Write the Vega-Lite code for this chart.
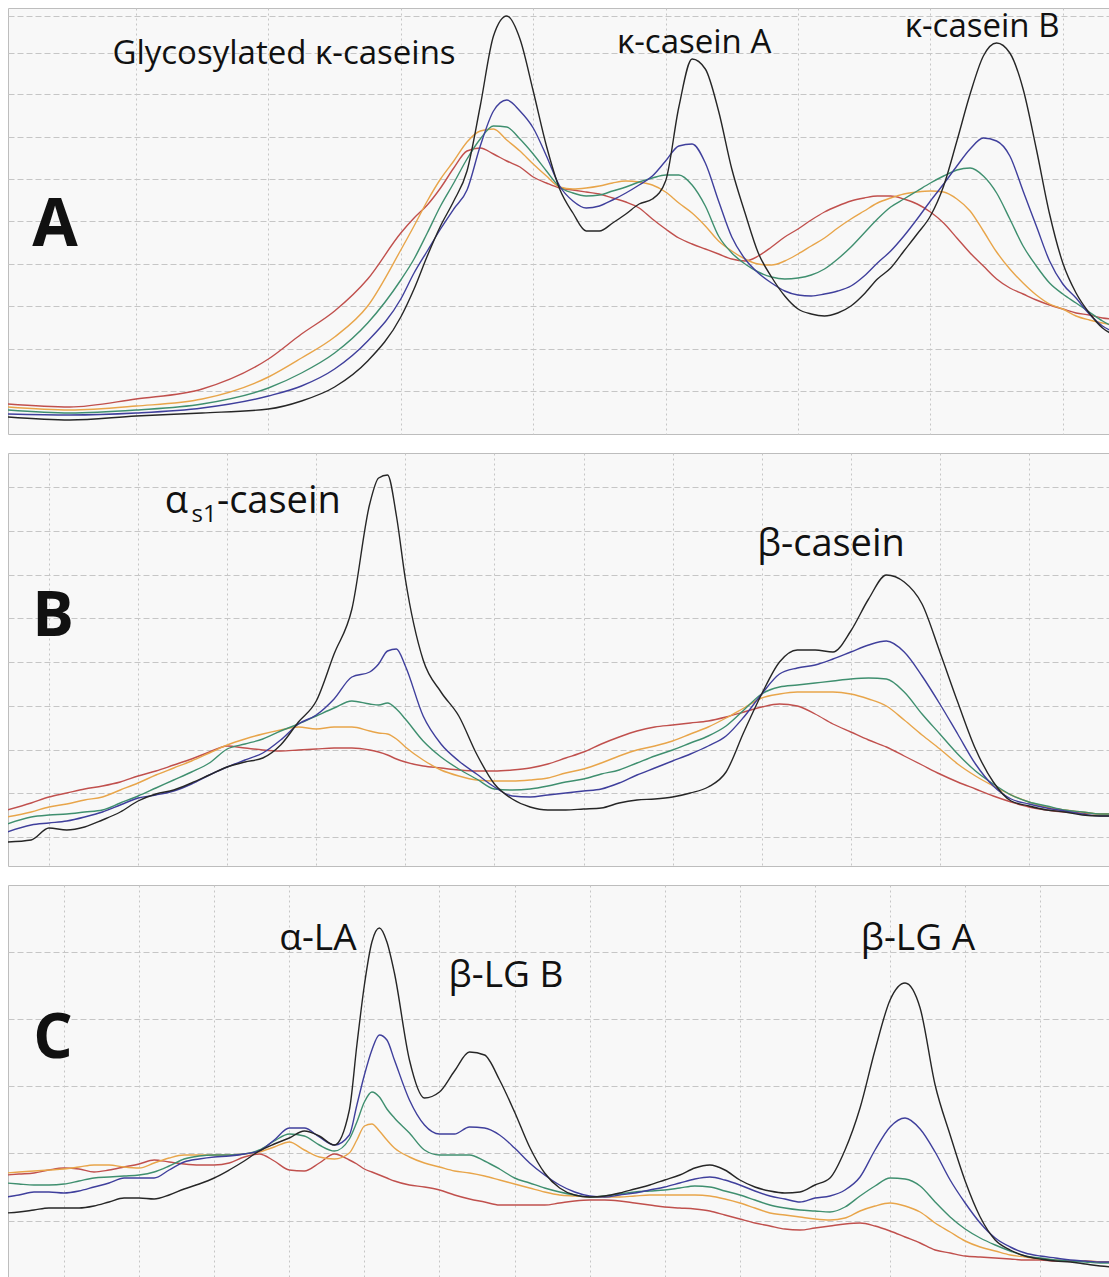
{
  "$schema": "https://vega.github.io/schema/vega-lite/v6.json",
  "background": "white",
  "padding": {"left": 7, "top": 7, "right": 0, "bottom": 0},
  "config": {
    "view": {"fill": "#f8f8f8", "stroke": "#bdbdbd", "strokeWidth": 1},
    "concat": {"spacing": 17},
    "axis": {"labels": false, "ticks": false, "domain": false, "grid": true, "gridColor": "#c6c6c6", "gridWidth": 1, "minExtent": 0, "maxExtent": 0},
    "axisX": {"gridDash": [2, 3]},
    "axisY": {"gridDash": [6, 3]},
    "text": {"font": "Open Sans", "color": "#111111"}
  },
  "datasets": {
    "kappa": [
      {"t":0.03,"red":30,"orange":27,"green":24,"blue":20,"black":17},
      {"t":0.5,"red":27,"orange":24,"green":21,"blue":19,"black":14},
      {"t":1.0,"red":35,"orange":28,"green":24,"blue":21,"black":18},
      {"t":1.5,"red":45,"orange":35,"green":30,"blue":26,"black":21},
      {"t":2.0,"red":75,"orange":57,"green":46,"blue":38,"black":25},
      {"t":2.25,"red":100,"orange":76,"green":61,"blue":48,"black":33},
      {"t":2.5,"red":123,"orange":97,"green":81,"blue":65,"black":47},
      {"t":2.75,"red":155,"orange":128,"green":111,"blue":93,"black":73},
      {"t":3.0,"red":201,"orange":184,"green":154,"blue":135,"black":117},
      {"t":3.1,"red":216,"orange":208,"green":175,"blue":161,"black":145},
      {"t":3.2,"red":229,"orange":233,"green":201,"blue":183,"black":178},
      {"t":3.3,"red":246,"orange":255,"green":228,"blue":205,"black":208},
      {"t":3.4,"red":266,"orange":273,"green":251,"blue":225,"black":233},
      {"t":3.5,"red":283,"orange":292,"green":275,"blue":244,"black":263},
      {"t":3.6,"red":286,"orange":303,"green":295,"blue":288,"black":328},
      {"t":3.7,"red":280,"orange":305,"green":308,"blue":323,"black":398},
      {"t":3.8,"red":273,"orange":294,"green":307,"blue":334,"black":418},
      {"t":3.9,"red":267,"orange":283,"green":295,"blue":323,"black":395},
      {"t":4.0,"red":257,"orange":270,"green":280,"blue":306,"black":343},
      {"t":4.1,"red":251,"orange":258,"green":263,"blue":278,"black":288},
      {"t":4.2,"red":246,"orange":247,"green":247,"blue":248,"black":245},
      {"t":4.3,"red":244,"orange":245,"green":241,"blue":233,"black":221},
      {"t":4.4,"red":242,"orange":246,"green":238,"blue":226,"black":203},
      {"t":4.5,"red":240,"orange":248,"green":239,"blue":228,"black":203},
      {"t":4.6,"red":236,"orange":251,"green":243,"blue":234,"black":211},
      {"t":4.7,"red":232,"orange":253,"green":247,"blue":241,"black":220},
      {"t":4.8,"red":226,"orange":252,"green":252,"blue":249,"black":230},
      {"t":4.9,"red":215,"orange":249,"green":256,"blue":258,"black":235},
      {"t":5.0,"red":205,"orange":242,"green":259,"blue":273,"black":253},
      {"t":5.1,"red":196,"orange":231,"green":259,"blue":288,"black":327},
      {"t":5.2,"red":190,"orange":221,"green":249,"blue":290,"black":375},
      {"t":5.3,"red":185,"orange":208,"green":228,"blue":271,"black":365},
      {"t":5.4,"red":180,"orange":193,"green":198,"blue":233,"black":323},
      {"t":5.5,"red":175,"orange":183,"green":181,"blue":197,"black":265},
      {"t":5.6,"red":173,"orange":175,"green":170,"blue":175,"black":221},
      {"t":5.7,"red":178,"orange":170,"green":162,"blue":161,"black":181},
      {"t":5.8,"red":187,"orange":169,"green":157,"blue":151,"black":157},
      {"t":5.9,"red":197,"orange":173,"green":155,"blue":143,"black":138},
      {"t":6.0,"red":205,"orange":180,"green":156,"blue":139,"black":125},
      {"t":6.1,"red":214,"orange":188,"green":159,"blue":138,"black":120},
      {"t":6.2,"red":222,"orange":196,"green":165,"blue":140,"black":118},
      {"t":6.3,"red":228,"orange":206,"green":175,"blue":143,"black":121},
      {"t":6.4,"red":233,"orange":215,"green":187,"blue":148,"black":128},
      {"t":6.5,"red":236,"orange":223,"green":201,"blue":158,"black":140},
      {"t":6.6,"red":238,"orange":231,"green":215,"blue":171,"black":155},
      {"t":6.7,"red":238,"orange":236,"green":227,"blue":183,"black":166},
      {"t":6.8,"red":235,"orange":240,"green":235,"blue":198,"black":183},
      {"t":6.9,"red":230,"orange":242,"green":243,"blue":215,"black":200},
      {"t":7.0,"red":222,"orange":243,"green":251,"blue":233,"black":218},
      {"t":7.1,"red":211,"orange":242,"green":258,"blue":250,"black":248},
      {"t":7.2,"red":196,"orange":235,"green":264,"blue":268,"black":293},
      {"t":7.3,"red":181,"orange":223,"green":266,"blue":285,"black":340},
      {"t":7.4,"red":168,"orange":203,"green":258,"blue":296,"black":378},
      {"t":7.5,"red":155,"orange":182,"green":241,"blue":293,"black":391},
      {"t":7.6,"red":146,"orange":165,"green":215,"blue":278,"black":381},
      {"t":7.7,"red":140,"orange":151,"green":188,"blue":243,"black":345},
      {"t":7.8,"red":134,"orange":139,"green":168,"blue":208,"black":285},
      {"t":7.9,"red":129,"orange":130,"green":151,"blue":173,"black":220},
      {"t":8.0,"red":125,"orange":125,"green":140,"blue":150,"black":171},
      {"t":8.1,"red":121,"orange":118,"green":131,"blue":136,"black":141},
      {"t":8.2,"red":119,"orange":114,"green":122,"blue":120,"black":121},
      {"t":8.3,"red":116,"orange":111,"green":113,"blue":108,"black":106},
      {"t":8.37,"red":115,"orange":109,"green":108,"blue":103,"black":100}
    ],
    "alphaBeta": [
      {"t":0.53,"red":56,"orange":49,"green":42,"blue":34,"black":24},
      {"t":0.8,"red":63,"orange":54,"green":49,"blue":41,"black":26},
      {"t":1.0,"red":69,"orange":59,"green":51,"blue":43,"black":38},
      {"t":1.2,"red":73,"orange":62,"green":52,"blue":45,"black":36},
      {"t":1.4,"red":77,"orange":66,"green":54,"blue":49,"black":39},
      {"t":1.6,"red":80,"orange":69,"green":56,"blue":54,"black":46},
      {"t":1.8,"red":84,"orange":76,"green":63,"blue":61,"black":54},
      {"t":2.0,"red":90,"orange":83,"green":70,"blue":68,"black":65},
      {"t":2.2,"red":95,"orange":91,"green":78,"blue":71,"black":72},
      {"t":2.4,"red":101,"orange":98,"green":86,"blue":75,"black":76},
      {"t":2.6,"red":107,"orange":105,"green":94,"blue":82,"black":83},
      {"t":2.8,"red":114,"orange":113,"green":103,"blue":91,"black":91},
      {"t":3.0,"red":120,"orange":121,"green":117,"blue":99,"black":99},
      {"t":3.2,"red":118,"orange":127,"green":122,"blue":106,"black":104},
      {"t":3.4,"red":116,"orange":132,"green":127,"blue":113,"black":108},
      {"t":3.6,"red":115,"orange":136,"green":135,"blue":126,"black":121},
      {"t":3.8,"red":116,"orange":139,"green":142,"blue":142,"black":144},
      {"t":4.0,"red":117,"orange":137,"green":150,"blue":151,"black":165},
      {"t":4.2,"red":118,"orange":139,"green":158,"blue":167,"black":212},
      {"t":4.4,"red":118,"orange":139,"green":165,"blue":189,"black":257},
      {"t":4.6,"red":116,"orange":135,"green":162,"blue":194,"black":362},
      {"t":4.7,"red":114,"orange":133,"green":161,"blue":202,"black":388},
      {"t":4.8,"red":111,"orange":132,"green":163,"blue":215,"black":391},
      {"t":4.9,"red":107,"orange":127,"green":157,"blue":217,"black":350},
      {"t":5.0,"red":104,"orange":119,"green":147,"blue":200,"black":287},
      {"t":5.2,"red":100,"orange":106,"green":125,"blue":150,"black":206},
      {"t":5.4,"red":98,"orange":96,"green":109,"blue":122,"black":174},
      {"t":5.6,"red":96,"orange":90,"green":97,"blue":105,"black":150},
      {"t":5.8,"red":95,"orange":86,"green":87,"blue":92,"black":112},
      {"t":6.0,"red":95,"orange":85,"green":77,"blue":79,"black":82},
      {"t":6.2,"red":96,"orange":85,"green":76,"blue":70,"black":67},
      {"t":6.4,"red":98,"orange":86,"green":77,"blue":69,"black":59},
      {"t":6.6,"red":102,"orange":88,"green":80,"blue":71,"black":56},
      {"t":6.8,"red":108,"orange":93,"green":84,"blue":73,"black":56},
      {"t":7.0,"red":114,"orange":97,"green":87,"blue":75,"black":57},
      {"t":7.2,"red":122,"orange":103,"green":92,"blue":77,"black":58},
      {"t":7.4,"red":129,"orange":110,"green":96,"blue":83,"black":63},
      {"t":7.6,"red":135,"orange":116,"green":103,"blue":91,"black":66},
      {"t":7.8,"red":139,"orange":120,"green":110,"blue":98,"black":67},
      {"t":8.0,"red":141,"orange":125,"green":116,"blue":105,"black":69},
      {"t":8.2,"red":143,"orange":132,"green":123,"blue":112,"black":73},
      {"t":8.4,"red":145,"orange":139,"green":130,"blue":120,"black":79},
      {"t":8.6,"red":149,"orange":148,"green":140,"blue":130,"black":94},
      {"t":8.8,"red":154,"orange":158,"green":156,"blue":149,"black":134},
      {"t":9.0,"red":159,"orange":168,"green":172,"blue":172,"black":172},
      {"t":9.2,"red":162,"orange":172,"green":179,"blue":192,"black":204},
      {"t":9.4,"red":160,"orange":174,"green":181,"blue":198,"black":216},
      {"t":9.6,"red":152,"orange":174,"green":183,"blue":201,"black":216},
      {"t":9.8,"red":142,"orange":174,"green":185,"blue":207,"black":214},
      {"t":10.0,"red":134,"orange":172,"green":187,"blue":214,"black":235},
      {"t":10.2,"red":126,"orange":167,"green":188,"blue":221,"black":267},
      {"t":10.4,"red":119,"orange":160,"green":187,"blue":225,"black":291},
      {"t":10.6,"red":110,"orange":146,"green":174,"blue":214,"black":284},
      {"t":10.8,"red":101,"orange":131,"green":152,"blue":190,"black":262},
      {"t":11.0,"red":92,"orange":117,"green":132,"blue":162,"black":214},
      {"t":11.2,"red":84,"orange":102,"green":112,"blue":132,"black":164},
      {"t":11.4,"red":77,"orange":90,"green":95,"blue":102,"black":117},
      {"t":11.6,"red":70,"orange":80,"green":82,"blue":80,"black":84},
      {"t":11.8,"red":64,"orange":71,"green":71,"blue":67,"black":65},
      {"t":12.0,"red":59,"orange":64,"green":64,"blue":62,"black":60},
      {"t":12.2,"red":56,"orange":59,"green":60,"blue":58,"black":56},
      {"t":12.4,"red":54,"orange":56,"green":56,"blue":55,"black":54},
      {"t":12.6,"red":53,"orange":54,"green":54,"blue":52,"black":51},
      {"t":12.8,"red":52,"orange":52,"green":52,"blue":50,"black":50},
      {"t":12.93,"red":52,"orange":52,"green":52,"blue":50,"black":50}
    ],
    "whey": [
      {"t":0.24,"red":113,"orange":115,"green":105,"blue":91,"black":75},
      {"t":0.4,"red":114,"orange":116,"green":104,"blue":93,"black":76},
      {"t":0.6,"red":115,"orange":117,"green":103,"blue":96,"black":78},
      {"t":0.8,"red":118,"orange":118,"green":103,"blue":96,"black":80},
      {"t":1.0,"red":120,"orange":119,"green":104,"blue":95,"black":80},
      {"t":1.2,"red":119,"orange":121,"green":107,"blue":97,"black":80},
      {"t":1.4,"red":116,"orange":123,"green":110,"blue":101,"black":82},
      {"t":1.6,"red":118,"orange":123,"green":111,"blue":105,"black":86},
      {"t":1.8,"red":121,"orange":121,"green":112,"blue":110,"black":90},
      {"t":2.0,"red":124,"orange":120,"green":113,"blue":110,"black":90},
      {"t":2.2,"red":128,"orange":125,"green":116,"blue":110,"black":89},
      {"t":2.4,"red":126,"orange":130,"green":122,"blue":118,"black":93},
      {"t":2.6,"red":124,"orange":133,"green":129,"blue":126,"black":99},
      {"t":2.8,"red":123,"orange":133,"green":132,"blue":129,"black":104},
      {"t":3.0,"red":123,"orange":133,"green":133,"blue":131,"black":110},
      {"t":3.2,"red":125,"orange":133,"green":133,"blue":132,"black":118},
      {"t":3.4,"red":131,"orange":134,"green":134,"blue":134,"black":127},
      {"t":3.6,"red":134,"orange":136,"green":138,"blue":137,"black":137},
      {"t":3.8,"red":127,"orange":141,"green":147,"blue":148,"black":144},
      {"t":4.0,"red":118,"orange":146,"green":154,"blue":160,"black":150},
      {"t":4.2,"red":117,"orange":138,"green":152,"blue":160,"black":157},
      {"t":4.4,"red":125,"orange":131,"green":143,"blue":151,"black":152},
      {"t":4.6,"red":134,"orange":129,"green":137,"blue":143,"black":143},
      {"t":4.8,"red":128,"orange":135,"green":149,"blue":153,"black":178},
      {"t":4.9,"red":124,"orange":148,"green":166,"blue":183,"black":243},
      {"t":5.0,"red":119,"orange":162,"green":186,"blue":213,"black":303},
      {"t":5.1,"red":116,"orange":164,"green":196,"blue":238,"black":346},
      {"t":5.2,"red":113,"orange":157,"green":191,"blue":253,"black":360},
      {"t":5.3,"red":110,"orange":148,"green":179,"blue":248,"black":346},
      {"t":5.4,"red":107,"orange":140,"green":170,"blue":228,"black":315},
      {"t":5.6,"red":103,"orange":131,"green":155,"blue":188,"black":228},
      {"t":5.8,"red":101,"orange":125,"green":138,"blue":163,"black":190},
      {"t":6.0,"red":98,"orange":121,"green":133,"blue":154,"black":196},
      {"t":6.2,"red":93,"orange":117,"green":133,"blue":154,"black":217},
      {"t":6.4,"red":89,"orange":115,"green":133,"blue":161,"black":236},
      {"t":6.6,"red":86,"orange":112,"green":127,"blue":160,"black":233},
      {"t":6.8,"red":83,"orange":108,"green":119,"blue":153,"black":208},
      {"t":7.0,"red":83,"orange":104,"green":110,"blue":140,"black":176},
      {"t":7.2,"red":83,"orange":100,"green":105,"blue":125,"black":141},
      {"t":7.4,"red":83,"orange":96,"green":100,"blue":113,"black":115},
      {"t":7.6,"red":85,"orange":93,"green":96,"blue":103,"black":100},
      {"t":7.8,"red":87,"orange":92,"green":93,"blue":96,"black":93},
      {"t":8.0,"red":88,"orange":91,"green":91,"blue":92,"black":91},
      {"t":8.2,"red":88,"orange":91,"green":92,"blue":91,"black":92},
      {"t":8.4,"red":87,"orange":91,"green":94,"blue":93,"black":95},
      {"t":8.6,"red":85,"orange":92,"green":96,"blue":95,"black":99},
      {"t":8.8,"red":83,"orange":93,"green":97,"blue":98,"black":103},
      {"t":9.0,"red":81,"orange":93,"green":98,"blue":101,"black":108},
      {"t":9.2,"red":80,"orange":93,"green":100,"blue":105,"black":113},
      {"t":9.4,"red":79,"orange":93,"green":102,"blue":109,"black":120},
      {"t":9.6,"red":77,"orange":92,"green":101,"blue":111,"black":123},
      {"t":9.8,"red":73,"orange":89,"green":97,"blue":108,"black":118},
      {"t":10.0,"red":69,"orange":85,"green":93,"blue":103,"black":108},
      {"t":10.2,"red":65,"orange":80,"green":88,"blue":97,"black":101},
      {"t":10.4,"red":62,"orange":75,"green":83,"blue":92,"black":97},
      {"t":10.6,"red":59,"orange":73,"green":80,"blue":89,"black":95},
      {"t":10.8,"red":58,"orange":71,"green":78,"blue":86,"black":96},
      {"t":11.0,"red":60,"orange":69,"green":77,"blue":90,"black":103},
      {"t":11.2,"red":62,"orange":68,"green":76,"blue":92,"black":110},
      {"t":11.4,"red":64,"orange":70,"green":81,"blue":98,"black":138},
      {"t":11.6,"red":65,"orange":77,"green":92,"blue":111,"black":180},
      {"t":11.8,"red":62,"orange":82,"green":102,"blue":138,"black":238},
      {"t":12.0,"red":57,"orange":85,"green":110,"blue":161,"black":288},
      {"t":12.2,"red":51,"orange":82,"green":109,"blue":170,"black":305},
      {"t":12.4,"red":45,"orange":76,"green":102,"blue":159,"black":280},
      {"t":12.6,"red":38,"orange":65,"green":86,"blue":136,"black":203},
      {"t":12.8,"red":35,"orange":56,"green":71,"blue":108,"black":153},
      {"t":13.0,"red":32,"orange":47,"green":59,"blue":85,"black":107},
      {"t":13.2,"red":31,"orange":41,"green":50,"blue":65,"black":71},
      {"t":13.4,"red":30,"orange":37,"green":43,"blue":50,"black":48},
      {"t":13.6,"red":29,"orange":33,"green":37,"blue":41,"black":38},
      {"t":13.8,"red":28,"orange":31,"green":32,"blue":35,"black":32},
      {"t":14.0,"red":28,"orange":29,"green":30,"blue":32,"black":29},
      {"t":14.2,"red":27,"orange":28,"green":28,"blue":30,"black":27},
      {"t":14.4,"red":27,"orange":27,"green":27,"blue":28,"black":26},
      {"t":14.6,"red":27,"orange":27,"green":26,"blue":27,"black":24},
      {"t":14.8,"red":26,"orange":26,"green":25,"blue":26,"black":22},
      {"t":14.95,"red":26,"orange":26,"green":25,"blue":26,"black":21}
    ],
    "labels": [
      {"panel":"A","kind":"peak","t":2.118,"signal":370,"label":"Glycosylated κ-caseins"},
      {"panel":"A","kind":"peak","t":5.215,"signal":381,"label":"κ-casein A"},
      {"panel":"A","kind":"peak","t":7.39,"signal":397,"label":"κ-casein B"},
      {"panel":"A","kind":"letter","t":0.388,"signal":188,"label":"A"},
      {"panel":"B","kind":"start","t":2.30,"signal":353,"label":"α"},
      {"panel":"B","kind":"sub","t":2.60,"signal":344,"label":"s1"},
      {"panel":"B","kind":"start","t":2.885,"signal":353,"label":"-casein"},
      {"panel":"B","kind":"peak","t":9.778,"signal":310,"label":"β-casein"},
      {"panel":"B","kind":"letter","t":1.045,"signal":230,"label":"B"},
      {"panel":"C","kind":"peak","t":4.382,"signal":338,"label":"α-LA"},
      {"panel":"C","kind":"peak","t":6.885,"signal":301,"label":"β-LG B"},
      {"panel":"C","kind":"peak","t":12.371,"signal":338,"label":"β-LG A"},
      {"panel":"C","kind":"letter","t":0.854,"signal":230,"label":"C"}
    ]
  },
  "vconcat": [
    {
      "width": 1103,
      "height": 426,
      "layer": [
        {
          "data": {"name": "kappa"},
          "transform": [{"fold": ["red", "orange", "green", "blue", "black"], "as": ["trace", "signal"]}],
          "mark": {"type": "line", "interpolate": "monotone", "strokeWidth": 1.4, "clip": true},
          "encoding": {
            "x": {"field": "t", "type": "quantitative", "scale": {"domain": [0.0332, 8.364], "nice": false, "zero": false}, "axis": {"title": null, "values": [1, 2, 3, 4, 5, 6, 7, 8]}},
            "y": {"field": "signal", "type": "quantitative", "scale": {"domain": [0, 426], "nice": false}, "axis": {"title": null, "values": [43, 85, 128, 170, 213, 255, 297, 340, 381, 418]}},
            "color": {"field": "trace", "type": "nominal", "legend": null,
              "scale": {"domain": ["red", "orange", "green", "blue", "black"], "range": ["#c0504d", "#e8a54a", "#3f8f6f", "#3f3f9c", "#262626"]}}
          }
        },
        {
          "data": {"name": "labels"},
          "transform": [{"filter": "datum.panel === 'A' && datum.kind === 'peak'"}],
          "mark": {"type": "text", "fontSize": 33, "align": "center", "baseline": "alphabetic"},
          "encoding": {"x": {"field": "t", "type": "quantitative"}, "y": {"field": "signal", "type": "quantitative"}, "text": {"field": "label"}}
        },
        {
          "data": {"name": "labels"},
          "transform": [{"filter": "datum.panel === 'A' && datum.kind === 'letter'"}],
          "mark": {"type": "text", "fontSize": 66, "fontWeight": "bold", "align": "center", "baseline": "alphabetic"},
          "encoding": {"x": {"field": "t", "type": "quantitative"}, "y": {"field": "signal", "type": "quantitative"}, "text": {"field": "label"}}
        }
      ]
    },
    {
      "width": 1103,
      "height": 413,
      "layer": [
        {
          "data": {"name": "alphaBeta"},
          "transform": [{"fold": ["red", "orange", "green", "blue", "black"], "as": ["trace", "signal"]}],
          "mark": {"type": "line", "interpolate": "monotone", "strokeWidth": 1.4, "clip": true},
          "encoding": {
            "x": {"field": "t", "type": "quantitative", "scale": {"domain": [0.5398, 12.921], "nice": false, "zero": false}, "axis": {"title": null, "values": [1, 2, 3, 4, 5, 6, 7, 8, 9, 10, 11, 12]}},
            "y": {"field": "signal", "type": "quantitative", "scale": {"domain": [0, 413], "nice": false}, "axis": {"title": null, "values": [29, 73, 116.5, 160, 204, 247.5, 291, 335, 379]}},
            "color": {"field": "trace", "type": "nominal", "legend": null}
          }
        },
        {
          "data": {"name": "labels"},
          "transform": [{"filter": "datum.panel === 'B' && datum.kind === 'peak'"}],
          "mark": {"type": "text", "fontSize": 38, "align": "center", "baseline": "alphabetic"},
          "encoding": {"x": {"field": "t", "type": "quantitative"}, "y": {"field": "signal", "type": "quantitative"}, "text": {"field": "label"}}
        },
        {
          "data": {"name": "labels"},
          "transform": [{"filter": "datum.panel === 'B' && datum.kind === 'start'"}],
          "mark": {"type": "text", "fontSize": 38, "align": "left", "baseline": "alphabetic"},
          "encoding": {"x": {"field": "t", "type": "quantitative"}, "y": {"field": "signal", "type": "quantitative"}, "text": {"field": "label"}}
        },
        {
          "data": {"name": "labels"},
          "transform": [{"filter": "datum.panel === 'B' && datum.kind === 'sub'"}],
          "mark": {"type": "text", "fontSize": 24, "align": "left", "baseline": "alphabetic"},
          "encoding": {"x": {"field": "t", "type": "quantitative"}, "y": {"field": "signal", "type": "quantitative"}, "text": {"field": "label"}}
        },
        {
          "data": {"name": "labels"},
          "transform": [{"filter": "datum.panel === 'B' && datum.kind === 'letter'"}],
          "mark": {"type": "text", "fontSize": 62, "fontWeight": "bold", "align": "center", "baseline": "alphabetic"},
          "encoding": {"x": {"field": "t", "type": "quantitative"}, "y": {"field": "signal", "type": "quantitative"}, "text": {"field": "label"}}
        }
      ]
    },
    {
      "width": 1103,
      "height": 403,
      "layer": [
        {
          "data": {"name": "whey"},
          "transform": [{"fold": ["red", "orange", "green", "blue", "black"], "as": ["trace", "signal"]}],
          "mark": {"type": "line", "interpolate": "monotone", "strokeWidth": 1.4, "clip": true},
          "encoding": {
            "x": {"field": "t", "type": "quantitative", "scale": {"domain": [0.2543, 14.942], "nice": false, "zero": false}, "axis": {"title": null, "values": [1, 2, 3, 4, 5, 6, 7, 8, 9, 10, 11, 12, 13, 14]}},
            "y": {"field": "signal", "type": "quantitative", "scale": {"domain": [0, 403], "nice": false}, "axis": {"title": null, "values": [67, 135, 202, 269, 336]}},
            "color": {"field": "trace", "type": "nominal", "legend": null}
          }
        },
        {
          "data": {"name": "labels"},
          "transform": [{"filter": "datum.panel === 'C' && datum.kind === 'peak'"}],
          "mark": {"type": "text", "fontSize": 37, "align": "center", "baseline": "alphabetic"},
          "encoding": {"x": {"field": "t", "type": "quantitative"}, "y": {"field": "signal", "type": "quantitative"}, "text": {"field": "label"}}
        },
        {
          "data": {"name": "labels"},
          "transform": [{"filter": "datum.panel === 'C' && datum.kind === 'letter'"}],
          "mark": {"type": "text", "fontSize": 62, "fontWeight": "bold", "align": "center", "baseline": "alphabetic"},
          "encoding": {"x": {"field": "t", "type": "quantitative"}, "y": {"field": "signal", "type": "quantitative"}, "text": {"field": "label"}}
        }
      ]
    }
  ]
}
